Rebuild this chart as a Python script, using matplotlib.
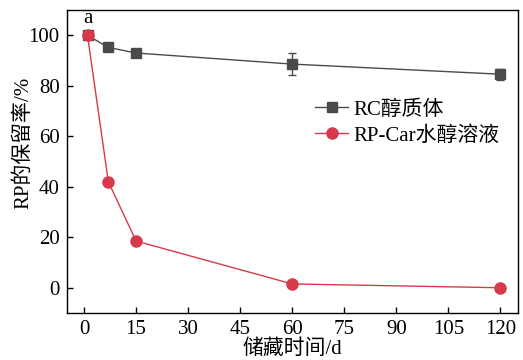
import matplotlib.pyplot as plt
from matplotlib.lines import Line2D

plt.rcParams['font.family'] = ['Liberation Serif', 'Noto Sans CJK SC']
plt.rcParams['axes.unicode_minus'] = False

days = [1, 7, 15, 60, 120]
rc = [100, 95.2, 93.0, 88.6, 84.6]
rc_err = [0, 0.8, 0.8, 4.5, 2.2]
rp_car = [100, 42.0, 18.5, 1.5, 0.0]
xticks = [0, 15, 30, 45, 60, 75, 90, 105, 120]
yticks = [0, 20, 40, 60, 80, 100]

c_rc = '#4a4a4a'
c_rp = '#d63a4a'

fig = plt.figure(figsize=(5.23, 3.6), dpi=100)
ax = fig.add_axes([0.1275, 0.1306, 0.8625, 0.8414])

ax.errorbar(days, rc, yerr=rc_err, color=c_rc, marker='s', markersize=7,
            linewidth=1, capsize=3, elinewidth=1, zorder=3)
ax.plot(days, rp_car, color=c_rp, marker='o', markersize=8,
        linewidth=1, zorder=4)

ax.set_xlim(-5, 125)
ax.set_ylim(-10, 110)
ax.set_xticks(xticks)
ax.set_yticks(yticks)
ax.tick_params(direction='in', labelsize=15, length=4, width=1, pad=5)
for s in ax.spines.values():
    s.set_linewidth(1)

ax.set_xlabel('储藏时间/d', fontsize=15, labelpad=0)
ax.set_ylabel('RP的保留率/%', fontsize=15)
ax.yaxis.set_label_coords(-0.075, 0.56)
ax.text(1, 103, 'a', fontsize=15, ha='center', va='bottom')

handles = [Line2D([], [], color=c_rc, marker='s', markersize=7, linewidth=1),
           Line2D([], [], color=c_rp, marker='o', markersize=8, linewidth=1)]
ax.legend(handles, ['RC醇质体', 'RP-Car水醇溶液'], loc='upper left',
          bbox_to_anchor=(0.532, 0.73), frameon=False, borderaxespad=0,
          fontsize=15, handlelength=1.6, handletextpad=0.25, labelspacing=0.3)

fig.savefig('out.png', dpi=100)
